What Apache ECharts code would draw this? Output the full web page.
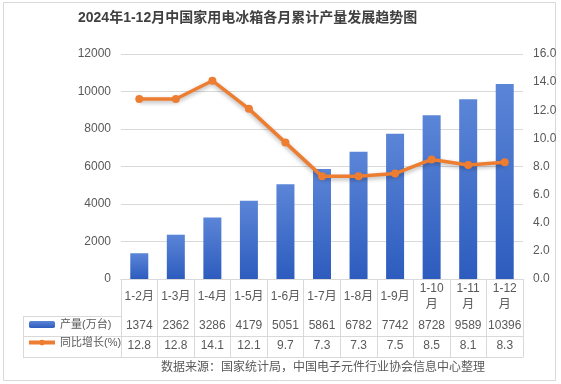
<!DOCTYPE html>
<html><head><meta charset="utf-8">
<script src="https://cdn.jsdelivr.net/npm/echarts@6/dist/echarts.min.js"></script>
<style>html,body{margin:0;padding:0;background:#fff}#c{width:561px;height:384px}</style>
</head><body><div id="c"></div>
<script>
var categories = ['1-2月','1-3月','1-4月','1-5月','1-6月','1-7月','1-8月','1-9月','1-10月','1-11月','1-12月'];
var production = [1374,2362,3286,4179,5051,5861,6782,7742,8728,9589,10396];
var growth = [12.8,12.8,14.1,12.1,9.7,7.3,7.3,7.5,8.5,8.1,8.3];
var leftTicks = {min:0, max:12000, interval:2000};
var rightTicks = {min:0, max:16, interval:2};
var titleText = '2024年1-12月中国家用电冰箱各月累计产量发展趋势图';
var sourceText = '数据来源：国家统计局，中国电子元件行业协会信息中心整理';
var nameBar = '产量(万台)', nameLine = '同比增长(%)';

var FF = "'Liberation Sans','Noto Sans CJK SC',sans-serif";
var TC = '#595959', GC = '#d9d9d9';
var chart = echarts.init(document.getElementById('c'), null, {renderer:'canvas'});
function tableAxis(data, offset, showLabel){
  return {type:'category', data:data, position:'bottom', offset:offset, gridIndex:0,
    axisLine:{show:true, lineStyle:{color:GC, width:1}},
    axisTick:{show:false}, splitLine:{show:false},
    axisLabel:{show:showLabel, interval:0, margin:10, verticalAlign:'middle', color:TC, fontSize:12, fontFamily:FF}};
}
var option = {
  backgroundColor:'#fff',
  textStyle:{fontFamily:FF},
  title:[
    {text:titleText, left:78, top:11, padding:0, textStyle:{fontSize:14, fontWeight:'bold', color:'#404040', fontFamily:FF}},
    {text:sourceText, left:161, top:362, padding:0, textStyle:{fontSize:12, fontWeight:'normal', color:TC, fontFamily:FF}}
  ],
  legend:{orient:'vertical', left:27, top:319, padding:0, itemWidth:26, itemHeight:7, itemGap:7,
    textStyle:{color:TC, fontSize:11, fontFamily:FF},
    data:[{name:nameBar}, {name:nameLine, lineStyle:{width:4}, itemStyle:{}}]},
  grid:{left:121, right:38, top:54, bottom:105, containLabel:false},
  xAxis:[
    {type:'category', data:categories, position:'bottom', offset:0,
      axisLine:{show:true, lineStyle:{color:GC}},
      axisTick:{show:true, length:78, lineStyle:{color:GC}},
      axisLabel:{interval:0, margin:18, verticalAlign:'middle', align:'center', color:TC, fontSize:12, fontFamily:FF, lineHeight:16,
        formatter:function(v){ return v.length > 4 ? v.slice(0, v.length-1) + '\n月' : v; }}},
    tableAxis(production.map(String), 37, true),
    tableAxis(growth.map(function(v){return v.toFixed(1);}), 57, true),
    tableAxis(categories, 78, false)
  ],
  yAxis:[
    {type:'value', min:leftTicks.min, max:leftTicks.max, interval:leftTicks.interval,
      axisLine:{show:false}, axisTick:{show:false},
      splitLine:{lineStyle:{color:GC}},
      axisLabel:{color:TC, fontSize:12, margin:10, fontFamily:FF, formatter:function(v){return String(v);}}},
    {type:'value', min:rightTicks.min, max:rightTicks.max, interval:rightTicks.interval, position:'right',
      axisLine:{show:false}, axisTick:{show:false}, splitLine:{show:false},
      axisLabel:{color:TC, fontSize:12, margin:10, fontFamily:FF, formatter:function(v){return v.toFixed(1);}}}
  ],
  series:[
    {name:nameBar, type:'bar', xAxisIndex:0, yAxisIndex:0, data:production, barWidth:18,
      itemStyle:{color:new echarts.graphic.LinearGradient(0,0,0,1,[{offset:0,color:'#5B85D7'},{offset:1,color:'#2D5CBE'}])}},
    {name:nameLine, type:'line', xAxisIndex:0, yAxisIndex:1, data:growth, symbol:'circle', symbolSize:8,
      itemStyle:{color:'#ED7D31'},
      lineStyle:{color:'#ED7D31', width:3.5, shadowColor:'rgba(0,0,0,0.3)', shadowBlur:4, shadowOffsetY:2}}
  ],
  graphic:[
    {type:'rect', shape:{x:3.5, y:2.5, width:552, height:378}, style:{fill:null, stroke:GC, lineWidth:1}, silent:true},
    {type:'line', shape:{x1:23, y1:316.5, x2:121, y2:316.5}, style:{stroke:GC, lineWidth:1}},
    {type:'line', shape:{x1:23, y1:336.5, x2:121, y2:336.5}, style:{stroke:GC, lineWidth:1}},
    {type:'line', shape:{x1:23, y1:357.5, x2:121, y2:357.5}, style:{stroke:GC, lineWidth:1}},
    {type:'line', shape:{x1:23.5, y1:316, x2:23.5, y2:357.5}, style:{stroke:GC, lineWidth:1}}
  ]
};
chart.setOption(option);
</script></body></html>
